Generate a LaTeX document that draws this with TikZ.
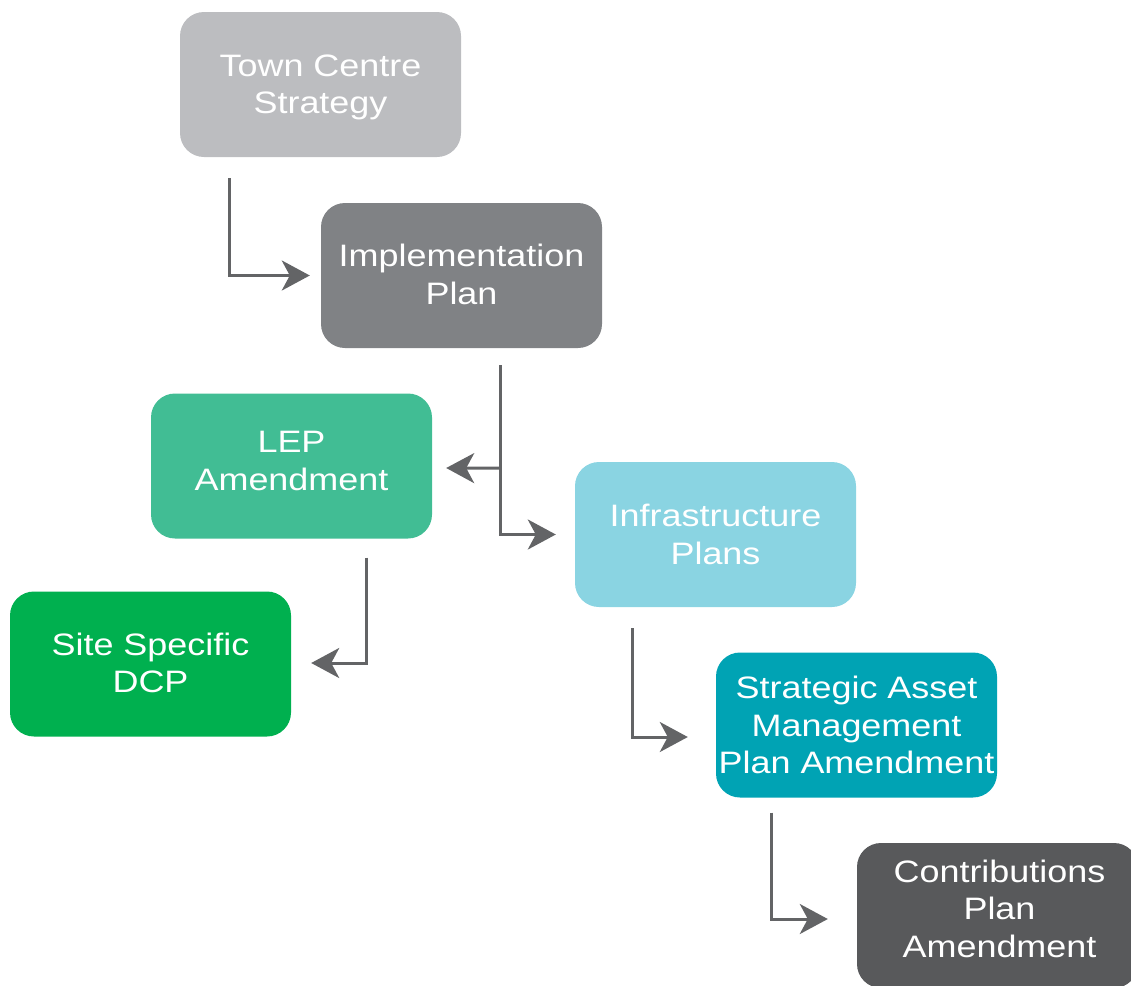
\documentclass[tikz,border=0pt]{standalone}
\usepackage{fontspec}
\setmainfont{Liberation Sans}[FakeStretch=1.16]
\usetikzlibrary{arrows.meta,calc}
\definecolor{c1}{HTML}{BCBDC0}
\definecolor{c2}{HTML}{808285}
\definecolor{c3}{HTML}{41BD94}
\definecolor{c4}{HTML}{8AD4E2}
\definecolor{c5}{HTML}{00B04F}
\definecolor{c6}{HTML}{00A3B4}
\definecolor{c7}{HTML}{58595B}
\definecolor{arrowc}{HTML}{636466}
\begin{document}
\begin{tikzpicture}[x=1pt,y=-1pt,
 box/.style={fill=#1, rounded corners=24pt, minimum width=281pt, minimum height=145pt, inner sep=0pt},
 lbl/.style={text=white, align=center, font=\fontsize{31}{37.5}\selectfont, inner sep=0pt},
 conn/.style={draw=arrowc, line width=3pt, -{Stealth[length=28pt,width=30pt,inset=8pt]}}]
\useasboundingbox (0,0) rectangle (1131,985);
\node[box=c1] (tcs) at (320.5,84.5) {};
\node[box=c2] (imp) at (461.5,275.5) {};
\node[box=c3] (lep) at (291.5,466) {};
\node[box=c4] (inf) at (715.5,534.5) {};
\node[box=c5] (dcp) at (150.5,664) {};
\node[box=c6] (sam) at (856.5,725) {};
\node[box=c7] (cpa) at (997.5,915.5) {};
\node[lbl] (tcs-t) at ($(tcs.center)+(0,3)$) {Town Centre\\Strategy};
\node[lbl] (imp-t) at ($(imp.center)+(0,-1)$) {Implementation\\Plan};
\node[lbl] (lep-t) at ($(lep.center)+(0,-5)$) {LEP\\Amendment};
\node[lbl] (inf-t) at (inf.center) {Infrastructure\\Plans};
\node[lbl] (dcp-t) at ($(dcp.center)+(0,-1)$) {Site Specific\\DCP};
\node[lbl] (sam-t) at (sam.center) {Strategic Asset\\Management\\Plan Amendment};
\node[lbl] (cpa-t) at ($(cpa.center)+(2,-7)$) {Contributions\\Plan\\Amendment};
\coordinate (s1) at ($(tcs.south west)+(50,21)$);
\coordinate (s2) at ($(imp.south)+(38.5,17)$);
\coordinate (s3) at ($(lep.south)+(74.5,19)$);
\coordinate (s4) at ($(inf.south)+(-83.5,21)$);
\coordinate (s5) at ($(sam.south)+(-85.5,15)$);
\coordinate (b2) at ($(s2)+(0,103)$);
\draw[conn] (s1) |- ($(imp.west)+(-11,0)$);
\draw[conn] (s2) |- ($(inf.west)+(-19,0)$);
\draw[conn] (b2) -- ($(lep.east)+(14,2)$);
\draw[conn] (s3) |- ($(dcp.east)+(20,-1)$);
\draw[conn] (s4) |- ($(sam.west)+(-28,12)$);
\draw[conn] (s5) |- ($(cpa.west)+(-29,3.5)$);
\end{tikzpicture}
\end{document}
